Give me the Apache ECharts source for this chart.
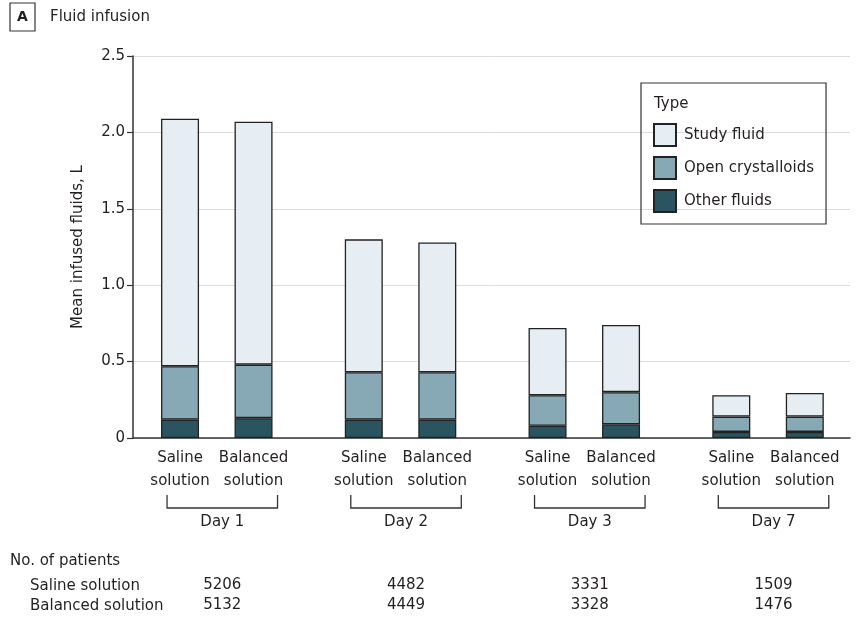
<!DOCTYPE html>
<html>
<head>
<meta charset="utf-8">
<script src="https://cdn.jsdelivr.net/npm/echarts@6/dist/echarts.min.js"></script>
<style>
  html, body { margin: 0; padding: 0; background: #fff; }
  #chart { width: 856px; height: 622px; }
</style>
</head>
<body>
<div id="chart"></div>
<script>
// Mean infused fluid volume (L) per day and trial arm
const days = ['Day 1', 'Day 2', 'Day 3', 'Day 7'];
const arms = ['Saline solution', 'Balanced solution'];
const armTickLabels = ['Saline\nsolution', 'Balanced\nsolution'];
const fluidTypes = ['Study fluid', 'Open crystalloids', 'Other fluids'];

const otherFluidsSaline = [0.12, 0.12, 0.08, 0.04];
const otherFluidsBalanced = [0.13, 0.12, 0.09, 0.04];
const openCrystSaline = [0.35, 0.31, 0.20, 0.10];
const openCrystBalanced = [0.35, 0.31, 0.21, 0.10];
const studyFluidSaline = [1.62, 0.87, 0.44, 0.14];
const studyFluidBalanced = [1.59, 0.85, 0.44, 0.155];

// Number of patients contributing to each day
const patientsSaline = [5206, 4482, 3331, 1509];
const patientsBalanced = [5132, 4449, 3328, 1476];

const yTicks = [0, 0.5, 1.0, 1.5, 2.0, 2.5];

// Horizontal slots: arms two slots apart, days five slots apart
const GROUP_STEP = 5;
const ARM_STEP = 2;
const slot = (g, a) => g * GROUP_STEP + a * ARM_STEP;

const FONT = 'DejaVu Sans';
const INK = '#231f20';
const COLORS = {
  'Study fluid': '#e7eef3',
  'Open crystalloids': '#87a9b5',
  'Other fluids': '#2a5560'
};

// Rows are [volume, slot] so the volume column is the stacked one
function barData(salineArr, balancedArr) {
  const out = [];
  days.forEach((d, g) => {
    out.push([salineArr[g], slot(g, 0)]);
    out.push([balancedArr[g], slot(g, 1)]);
  });
  return out;
}

function barSeries(name, salineArr, balancedArr) {
  return {
    name: name,
    type: 'bar',
    stack: 'fluids',
    barWidth: 38,
    encode: { x: 1, y: 0 },
    data: barData(salineArr, balancedArr),
    itemStyle: { color: COLORS[name], borderColor: '#222', borderWidth: 1.3 },
    emphasis: { disabled: true },
    z: 3
  };
}

// Labels, day brackets and patient counts under the axis
const annotationData = days.map((d, g) => [slot(g, 0), slot(g, 1), 0]);

function renderAnnotations(params, api) {
  const g = params.dataIndex;
  const ps = api.coord([api.value(0), 0]);
  const pb = api.coord([api.value(1), 0]);
  const y0 = ps[1];
  const bl = ps[0] - 13;
  const br = pb[0] + 24;
  const mid = (bl + br) / 2;
  const txt = (text, x, y, va) => ({
    type: 'text',
    style: {
      text: text, x: x, y: y,
      textAlign: 'center', textVerticalAlign: va || 'middle',
      fontFamily: FONT, fontSize: 15, lineHeight: 23, fill: INK
    }
  });
  return {
    type: 'group',
    children: [
      txt(armTickLabels[0], ps[0], y0 + 8.5, 'top'),
      txt(armTickLabels[1], pb[0], y0 + 8.5, 'top'),
      {
        type: 'polyline',
        shape: { points: [[bl, y0 + 57], [bl, y0 + 70], [br, y0 + 70], [br, y0 + 57]] },
        style: { stroke: '#333', lineWidth: 1.3, fill: null }
      },
      txt(days[g], mid, y0 + 84),
      txt(String(patientsSaline[g]), mid, y0 + 147),
      txt(String(patientsBalanced[g]), mid, y0 + 167)
    ]
  };
}

const chart = echarts.init(document.getElementById('chart'), null, { renderer: 'canvas' });

chart.setOption({
  animation: false,
  backgroundColor: '#fff',
  title: [
    {
      left: 10, top: 3, padding: 0,
      text: '{box|A}{t|Fluid infusion}',
      textStyle: {
        fontWeight: 'normal',
        rich: {
          box: {
            fontFamily: FONT, fontSize: 14, fontWeight: 'bold', color: INK,
            borderColor: '#333', borderWidth: 1.2,
            width: 15, height: 18, align: 'center', padding: [5, 5, 5, 5]
          },
          t: { fontFamily: FONT, fontSize: 15, fontWeight: 'normal', color: INK, padding: [0, 0, 0, 15] }
        }
      }
    },
    {
      left: 654, top: 97, padding: 0,
      text: 'Type',
      textStyle: { fontFamily: FONT, fontSize: 15, fontWeight: 'normal', color: INK }
    }
  ],
  legend: {
    data: fluidTypes,
    orient: 'vertical',
    left: 641, top: 83,
    padding: [40, 12, 11, 12],
    borderColor: '#333', borderWidth: 1.2,
    itemWidth: 22, itemHeight: 22, itemGap: 9,
    icon: 'rect',
    selectedMode: false,
    textStyle: { fontFamily: FONT, fontSize: 15, color: INK, padding: [0, 0, 0, 3] }
  },
  grid: { left: 133, right: 6, top: 56, bottom: 184, containLabel: false },
  xAxis: {
    type: 'value',
    min: -1.28, max: 18.23,
    axisLine: { show: true, onZero: false, lineStyle: { color: '#333', width: 1.5 } },
    axisTick: { show: false },
    axisLabel: { show: false },
    splitLine: { show: false }
  },
  yAxis: {
    type: 'value',
    min: yTicks[0], max: yTicks[yTicks.length - 1], interval: 0.5,
    name: 'Mean infused fluids, L',
    nameLocation: 'middle',
    nameGap: 47,
    nameTextStyle: { fontFamily: FONT, fontSize: 15, color: INK },
    axisLine: { show: true, onZero: false, lineStyle: { color: '#333', width: 1.5 } },
    axisTick: { show: true, length: 6, lineStyle: { color: '#333', width: 1.2 } },
    axisLabel: {
      fontFamily: FONT, fontSize: 15, color: INK, margin: 8,
      formatter: v => (v === 0 ? '0' : v.toFixed(1))
    },
    splitLine: { show: true, lineStyle: { color: '#dcdcdc', width: 1 } }
  },
  graphic: [
    { type: 'text', left: 10, top: 554, style: { text: 'No. of patients', fontFamily: FONT, fontSize: 15, fill: INK } },
    { type: 'text', left: 30, top: 579, style: { text: arms[0], fontFamily: FONT, fontSize: 15, fill: INK } },
    { type: 'text', left: 30, top: 599, style: { text: arms[1], fontFamily: FONT, fontSize: 15, fill: INK } }
  ],
  series: [
    barSeries('Other fluids', otherFluidsSaline, otherFluidsBalanced),
    barSeries('Open crystalloids', openCrystSaline, openCrystBalanced),
    barSeries('Study fluid', studyFluidSaline, studyFluidBalanced),
    {
      type: 'custom',
      name: 'annotations',
      coordinateSystem: 'cartesian2d',
      clip: false,
      silent: true,
      encode: { x: [0, 1], y: 2 },
      data: annotationData,
      renderItem: renderAnnotations
    }
  ]
});
</script>
</body>
</html>
